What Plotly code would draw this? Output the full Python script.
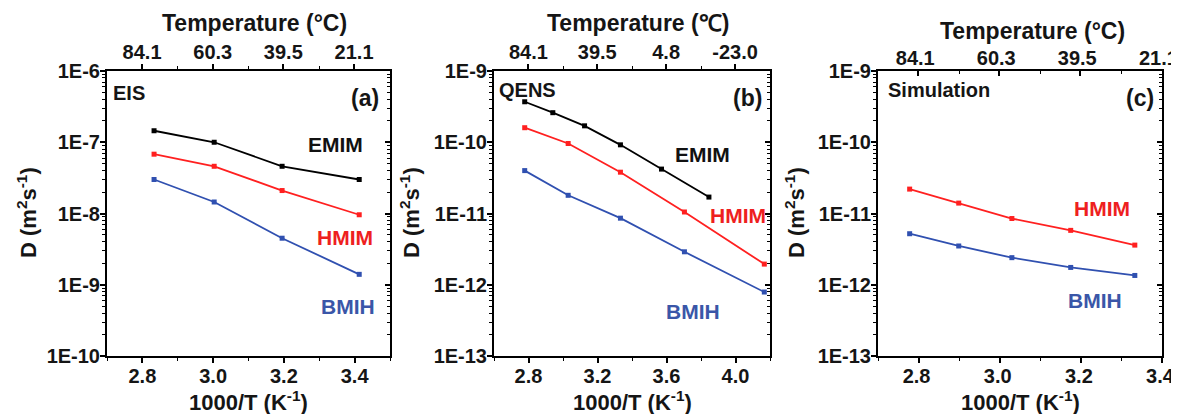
import plotly.graph_objects as go

# ---------------- data ----------------
# (a) EIS
x_a = [2.833, 3.003, 3.195, 3.413]
emim_a = [1.45e-7, 1.0e-7, 4.6e-8, 3.0e-8]
hmim_a = [6.8e-8, 4.6e-8, 2.1e-8, 9.6e-9]
bmih_a = [3.0e-8, 1.45e-8, 4.5e-9, 1.4e-9]

# (b) QENS
x_b_emim = [2.778, 2.941, 3.125, 3.333, 3.571, 3.846]
emim_b = [3.7e-10, 2.6e-10, 1.7e-10, 9.2e-11, 4.2e-11, 1.7e-11]
x_b = [2.778, 3.030, 3.333, 3.704, 4.167]
hmim_b = [1.6e-10, 9.6e-11, 3.8e-11, 1.05e-11, 1.95e-12]
bmih_b = [4.0e-11, 1.8e-11, 8.6e-12, 2.9e-12, 7.9e-13]

# (c) Simulation
x_c = [2.778, 2.899, 3.030, 3.175, 3.333]
hmim_c = [2.2e-11, 1.4e-11, 8.5e-12, 5.8e-12, 3.6e-12]
bmih_c = [5.2e-12, 3.5e-12, 2.4e-12, 1.75e-12, 1.35e-12]

# tick labels
top_temps_a = [84.1, 60.3, 39.5, 21.1]
top_temps_b = [84.1, 39.5, 4.8, -23.0]
top_temps_c = [84.1, 60.3, 39.5, 21.1]
ylab_a = ["1E-6", "1E-7", "1E-8", "1E-9", "1E-10"]
ylab_bc = ["1E-9", "1E-10", "1E-11", "1E-12", "1E-13"]

# ---------------- style ----------------
PAGE_W, PAGE_H = 1179, 414
OFF = 8                      # default body margin of the html page
W, H = PAGE_W - OFF, PAGE_H - OFF
FONT = "Liberation Sans, Arial, sans-serif"
TXT = "#151515"
C_EMIM, C_HMIM, C_BMIH = "#000000", "#ff2020", "#3050b0"
L_HMIM, L_BMIH = "#ee2020", "#3a56a8"

def px(x):
    return (x - OFF) / W

def py(y):
    return 1 - (y - OFF) / H

panels = [
    dict(dom=[107, 390], xr=[2.7, 3.5], xdt=0.2, xminor=0.1, yr=[-10, -6], ylab=ylab_a,
         temps=top_temps_a, tminor=[2.9, 3.1, 3.3], top_fmt="Temperature (°C)",
         tticks="outside", tstand=-3, tshift=0, bshift=0,
         series=[(x_a, emim_a, C_EMIM), (x_a, hmim_a, C_HMIM), (x_a, bmih_a, C_BMIH)]),
    dict(dom=[494, 770], xr=[2.6, 4.2], xdt=0.4, xminor=0.2, yr=[-13, -9], ylab=ylab_bc,
         temps=top_temps_b, tminor=[3.0, 3.4, 3.8], top_fmt="Temperature (℃)",
         tticks="outside", tstand=-3, tshift=0, bshift=0,
         series=[(x_b_emim, emim_b, C_EMIM), (x_b, hmim_b, C_HMIM), (x_b, bmih_b, C_BMIH)]),
    dict(dom=[878, 1162], xr=[2.7, 3.4], xdt=0.2, xminor=0.1, yr=[-13, -9], ylab=ylab_bc,
         temps=top_temps_c, tminor=[2.9, 3.1, 3.3], top_fmt="Temperature (°C)",
         tticks="inside", tstand=-4, tshift=-3, bshift=-2,
         series=[(x_c, hmim_c, C_HMIM), (x_c, bmih_c, C_BMIH)]),
]

fig = go.Figure()

for i, pnl in enumerate(panels, start=1):
    xb, xt, yl, yr_ = 2 * i - 1, 2 * i, 2 * i - 1, 2 * i
    for (x, y, color) in pnl["series"]:
        fig.add_trace(go.Scatter(
            x=x, y=y, mode="lines+markers",
            line=dict(color=color, width=1.8),
            marker=dict(symbol="square", size=5, color=color),
            xaxis=f"x{xb}", yaxis=f"y{yl}", showlegend=False, hoverinfo="skip"))
    # invisible companions so the top (temperature) and right axes get drawn
    x0, y0, _ = pnl["series"][0]
    fig.add_trace(go.Scatter(x=x0, y=y0, mode="lines", opacity=0, line=dict(width=0),
                             xaxis=f"x{xt}", yaxis=f"y{yl}", showlegend=False,
                             hoverinfo="skip"))
    fig.add_trace(go.Scatter(x=x0, y=y0, mode="lines", opacity=0, line=dict(width=0),
                             xaxis=f"x{xb}", yaxis=f"y{yr_}", showlegend=False,
                             hoverinfo="skip"))

tickfont = dict(family=FONT, size=20, color=TXT, weight="bold")
layout = dict(width=W, height=H, margin=dict(l=0, r=0, t=0, b=0, autoexpand=False),
              paper_bgcolor="white", plot_bgcolor="white", showlegend=False)

ydom = [py(356), py(71)]
for i, pnl in enumerate(panels, start=1):
    xd = [px(pnl["dom"][0]), px(pnl["dom"][1])]
    lo, hi = pnl["yr"]
    decades = [10.0 ** e for e in range(hi, lo - 1, -1)]
    minors = [k * 10.0 ** e for e in range(lo, hi) for k in range(2, 10)]
    xb, xt, yl, yr_ = 2 * i - 1, 2 * i, 2 * i - 1, 2 * i
    layout[f"xaxis{xb}"] = dict(
        domain=xd, range=pnl["xr"], anchor=f"y{yl}", dtick=pnl["xdt"], tick0=2.8,
        tickformat=".1f", ticks="outside", ticklen=5, tickwidth=1.5, tickcolor="black",
        showline=True, linewidth=2, linecolor="black", showgrid=False, zeroline=False,
        tickfont=tickfont, automargin=False, ticklabelstandoff=-4,
        ticklabelshift=pnl["bshift"], ticklabeloverflow="allow",
        minor=dict(dtick=pnl["xminor"], tick0=2.8, ticks="outside", ticklen=3,
                   tickwidth=1.2, tickcolor="black", showgrid=False))
    tv = [1000.0 / (t + 273.15) for t in pnl["temps"]]
    layout[f"xaxis{xt}"] = dict(
        overlaying=f"x{xb}", side="top", anchor=f"y{yl}", range=pnl["xr"],
        tickvals=tv, ticktext=[f"{t:.1f}" for t in pnl["temps"]],
        ticks=pnl["tticks"], ticklen=5, tickwidth=1.5, tickcolor="black",
        showline=True, linewidth=2, linecolor="black", showgrid=False, zeroline=False,
        tickfont=tickfont, automargin=False, ticklabelstandoff=pnl["tstand"],
        ticklabelshift=pnl["tshift"], ticklabeloverflow="allow",
        minor=dict(tickvals=pnl["tminor"], ticks=pnl["tticks"], ticklen=3,
                   tickwidth=1.2, tickcolor="black", showgrid=False))
    layout[f"yaxis{yl}"] = dict(
        domain=ydom, type="log", range=[lo, hi], anchor=f"x{xb}",
        tickvals=decades, ticktext=pnl["ylab"],
        ticks="outside", ticklen=5, tickwidth=1.5, tickcolor="black",
        showline=True, linewidth=2, linecolor="black", showgrid=False, zeroline=False,
        tickfont=tickfont, automargin=False, ticklabelstandoff=-4,
        ticklabeloverflow="allow",
        minor=dict(tickvals=minors, ticks="outside", ticklen=3, tickwidth=1,
                   tickcolor="black", showgrid=False))
    layout[f"yaxis{yr_}"] = dict(
        overlaying=f"y{yl}", side="right", type="log", range=[lo, hi], anchor=f"x{xb}",
        tickvals=decades, showticklabels=False, automargin=False,
        ticks="inside", ticklen=5, tickwidth=1.5, tickcolor="black",
        showline=True, linewidth=2, linecolor="black", showgrid=False, zeroline=False,
        minor=dict(tickvals=minors, ticks="inside", ticklen=3, tickwidth=1,
                   tickcolor="black", showgrid=False))

fig.update_layout(**layout)

def ann(text, x, y, size=20, color=TXT, xanchor="center", angle=0):
    fig.add_annotation(text=text, x=px(x), y=py(y), xref="paper", yref="paper",
                       showarrow=False, xanchor=xanchor, yanchor="middle", textangle=angle,
                       font=dict(family=FONT, size=size, color=color, weight="bold"))

# axis titles
centers = [248, 632, 1020]
top_y = [23, 23, 31]
ylab_x = [27, 410, 795]
for i, pnl in enumerate(panels):
    ann(pnl["top_fmt"], centers[i] + (6 if i < 2 else 12), top_y[i], size=23)
    ann("1000/T (K<sup>-1</sup>)", centers[i], 401, size=22)
    ann("D (m<sup>2</sup>s<sup>-1</sup>)", ylab_x[i], 213, size=22, angle=-90)

# panel labels
ann("EIS", 111, 93, size=20, xanchor="left")
ann("(a)", 381, 98, size=23, xanchor="right")
ann("QENS", 497, 90, size=20, xanchor="left")
ann("(b)", 764, 98, size=23, xanchor="right")
ann("Simulation", 886, 90, size=20, xanchor="left")
ann("(c)", 1156, 98, size=23, xanchor="right")

# series labels
ann("EMIM", 335, 144, size=21, color="#111111")
ann("HMIM", 345, 237, size=21, color=L_HMIM)
ann("BMIH", 348, 306, size=21, color=L_BMIH)
ann("EMIM", 702, 155, size=21, color="#111111")
ann("HMIM", 738, 215, size=21, color=L_HMIM)
ann("BMIH", 693, 311, size=21, color=L_BMIH)
ann("HMIM", 1102, 208, size=21, color=L_HMIM)
ann("BMIH", 1095, 300, size=21, color=L_BMIH)

fig.write_html("out.html")
